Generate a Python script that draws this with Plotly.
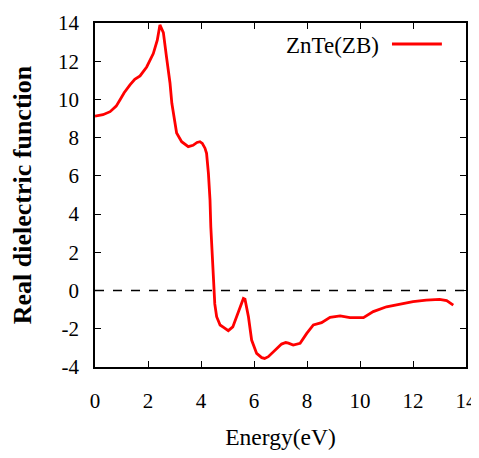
import plotly.graph_objects as go

energy = [0.0, 0.3, 0.57, 0.8, 0.94, 1.1, 1.32, 1.5, 1.7, 1.95, 2.2, 2.35, 2.45, 2.58, 2.7, 2.83, 2.9, 3.0, 3.08, 3.27, 3.52, 3.7, 3.85, 3.96, 4.05, 4.15, 4.21, 4.28, 4.34, 4.37, 4.42, 4.47, 4.52, 4.59, 4.72, 4.88, 5.03, 5.2, 5.35, 5.47, 5.6, 5.66, 5.72, 5.79, 5.91, 6.1, 6.29, 6.4, 6.54, 6.79, 7.04, 7.2, 7.3, 7.48, 7.74, 7.99, 8.24, 8.55, 8.87, 9.25, 9.62, 10.13, 10.5, 11.0, 11.5, 12.0, 12.5, 13.0, 13.27, 13.52]
eps_real = [9.13, 9.2, 9.36, 9.65, 9.97, 10.35, 10.76, 11.05, 11.23, 11.7, 12.4, 13.1, 13.9, 13.5, 12.2, 10.86, 9.8, 8.9, 8.24, 7.79, 7.53, 7.6, 7.75, 7.79, 7.7, 7.45, 7.18, 6.13, 4.74, 3.34, 1.7, 0.03, -0.7, -1.37, -1.8, -1.95, -2.1, -1.9, -1.3, -0.85, -0.41, -0.45, -0.8, -1.37, -2.59, -3.29, -3.51, -3.55, -3.46, -3.11, -2.8, -2.72, -2.75, -2.85, -2.76, -2.24, -1.8, -1.68, -1.4, -1.33, -1.42, -1.42, -1.1, -0.85, -0.7, -0.58, -0.5, -0.46, -0.53, -0.76]

series_name = "ZnTe(ZB)"
x_ticks = [0, 2, 4, 6, 8, 10, 12, 14]
y_ticks = [-4, -2, 0, 2, 4, 6, 8, 10, 12, 14]

FONT = "Liberation Serif"

fig = go.Figure()
fig.add_trace(go.Scatter(x=energy, y=eps_real, mode="lines",
                         line=dict(color="#ff0000", width=2.8),
                         name=series_name, showlegend=False))

fig.add_shape(type="line", xref="paper", yref="y", x0=0, x1=1, y0=0, y1=0,
              line=dict(color="black", width=1.5, dash="dash"), layer="below")

# legend (text on the left, sample line on the right)
fig.add_annotation(xref="paper", yref="paper", x=0.770, y=0.936,
                   xanchor="right", yanchor="middle", showarrow=False,
                   text=series_name, font=dict(family=FONT, size=23, color="black"))
fig.add_shape(type="line", xref="paper", yref="paper", x0=0.8005, x1=0.935,
              y0=0.939, y1=0.939, line=dict(color="#ff0000", width=2.8))

axis_common = dict(showgrid=False, zeroline=False, showline=True, linecolor="black",
                   linewidth=1.8, mirror="ticks", ticks="inside", ticklen=6,
                   tickwidth=1.3, tickcolor="black", ticklabeloverflow="allow",
                   tickfont=dict(family=FONT, size=21, color="black"))

fig.update_xaxes(range=[0, 14], tickvals=x_ticks, ticktext=[str(v) for v in x_ticks],
                 ticklabelstandoff=14,
                 title=dict(text="Energy(eV)", font=dict(family=FONT, size=23.5, color="black"),
                            standoff=20),
                 **axis_common)
fig.update_yaxes(range=[-4, 14], tickvals=y_ticks, ticktext=[str(v) for v in y_ticks],
                 ticklabelstandoff=10,
                 title=dict(text="<b>Real dielectric function</b>",
                            font=dict(family=FONT, size=26, color="black"), standoff=19),
                 **axis_common)

# page body adds an 8px offset; plot area placed at page x 95..466, y 23..367
fig.update_layout(width=471, height=442, margin=dict(l=87, r=13, t=15, b=83, autoexpand=False),
                  paper_bgcolor="white", plot_bgcolor="white", showlegend=False,
                  font=dict(family=FONT))

fig.write_html("out.html")
